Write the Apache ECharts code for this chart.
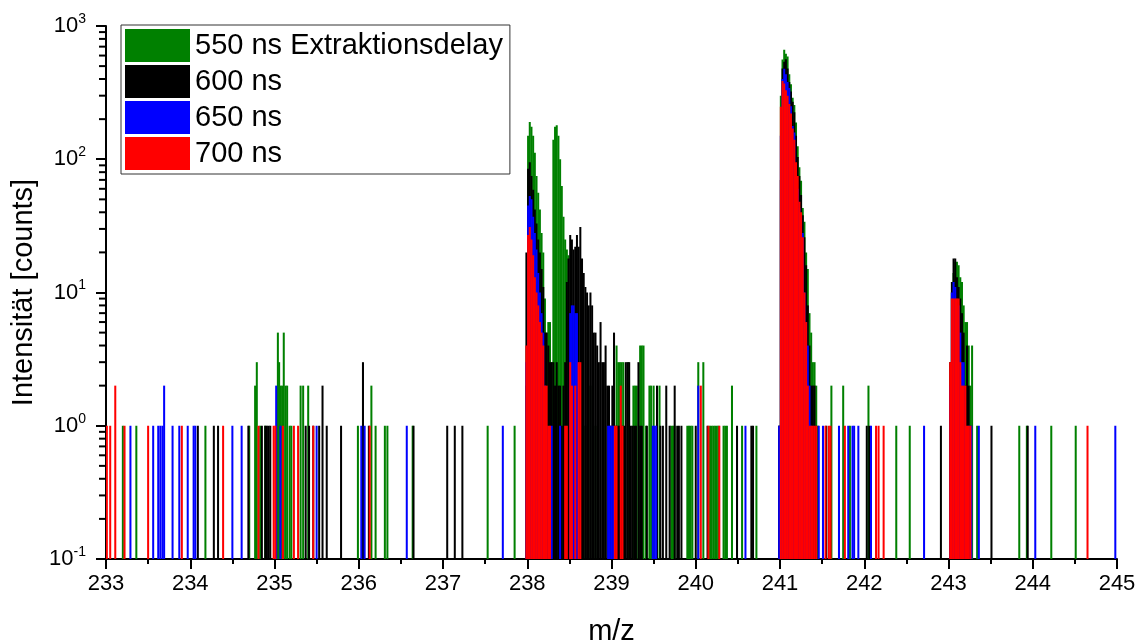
<!DOCTYPE html>
<html>
<head>
<meta charset="utf-8">
<script src="https://cdn.jsdelivr.net/npm/echarts@6/dist/echarts.min.js"></script>
<style>
html,body{margin:0;padding:0;background:#fff;}
#chart{width:1148px;height:643px;}
</style>
</head>
<body>
<div id="chart"></div>
<script>
// ---- Data: [m/z, counts] ----
const seriesNames = ['550 ns Extraktionsdelay', '600 ns', '650 ns', '700 ns'];
const seriesColors = ['#008000', '#000000', '#0000ff', '#ff0000'];

const data550 = [
  [233.20,1],[233.36,1],[234.18,1],[234.70,1],[234.77,2],[234.79,3],[234.83,1],[234.89,1],
  [235.04,5],[235.055,3],[235.07,2],[235.09,2],[235.11,5],[235.13,2],[235.15,2],[235.18,1],[235.20,1],
  [235.31,2],[235.34,2],[235.40,2],[235.99,1],[236.15,2],[236.20,1],[236.31,1],[236.34,1],[236.64,1],
  [237.53,1],[237.85,1],
  [237.99,2],[238.01,150],[238.03,190],[238.05,175],[238.07,150],[238.09,112],[238.11,75],[238.13,56],
  [238.15,42],[238.17,28],[238.19,20],[238.21,9],[238.23,5],[238.25,6],[238.27,6],[238.29,3],
  [238.31,140],[238.33,175],[238.35,180],[238.37,150],[238.39,100],[238.41,63],[238.43,37],[238.45,25],
  [238.47,21],[238.49,19],[238.51,3],[238.55,2],[238.61,2],[238.69,1],[238.75,2],[238.81,1],[238.90,1],
  [239.06,4],[239.08,3],[239.10,3],[239.12,3],[239.14,3],[239.20,3],[239.26,2],[239.28,2],[239.30,2],
  [239.34,4],[239.36,4],[239.38,4],[239.41,1],[239.45,2],[239.47,2],[239.50,2],[239.57,2],[239.71,1],
  [239.73,1],[239.75,1],[239.90,1],[239.92,1],[239.94,1],[239.96,1],[240.03,3],[240.09,3],[240.17,1],
  [240.19,1],[240.21,1],[240.23,1],[240.25,1],[240.27,1],[240.33,1],[240.35,1],[240.37,1],[240.43,2],
  [240.55,1],[240.72,1],
  [240.99,1],[241.01,300],[241.03,560],[241.05,664],[241.07,620],[241.09,590],[241.11,435],[241.13,365],
  [241.15,290],[241.17,255],[241.19,189],[241.21,125],[241.23,87],[241.25,69],[241.27,43],[241.29,34],
  [241.31,20],[241.33,15],[241.35,7],[241.37,5],[241.39,3],[241.41,3],[241.43,2],[241.45,1],
  [241.61,2],[241.75,2],[241.83,1],[242.05,2],[242.38,1],[242.54,1],
  [243.02,2],[243.04,10],[243.06,14],[243.08,17],[243.10,17],[243.12,16],[243.14,13],[243.16,12],
  [243.18,8],[243.20,6],[243.22,6],[243.24,4],[243.26,2],[243.28,4],[243.34,1],
  [243.84,1],[243.93,1],[244.22,1],[244.51,1]
];

const data600 = [
  [234.09,1],[234.28,1],[234.33,1],[234.69,1],[234.85,1],[234.89,1],[234.91,1],[234.93,1],[234.95,1],
  [235.37,1],[235.41,1],[235.46,1],[235.53,1],[235.57,2],[235.62,1],[235.79,1],[236.05,3],[236.12,1],
  [236.65,1],[237.05,1],[237.14,1],[237.23,1],
  [237.99,20],[238.01,85],[238.03,95],[238.05,75],[238.07,59],[238.09,42],[238.11,33],[238.13,25],
  [238.15,20],[238.17,15],[238.19,11],[238.21,5],[238.23,5],[238.25,4],[238.27,3],[238.29,3],[238.31,3],
  [238.33,2],[238.35,3],[238.37,2],[238.39,2],[238.41,1],[238.43,2],[238.45,3],[238.47,12],[238.49,18],
  [238.51,27],[238.53,25],[238.55,21],[238.57,22],[238.59,27],[238.61,22],[238.63,31],[238.65,18],
  [238.67,14],[238.69,11],[238.71,10],[238.73,8],[238.75,10],[238.77,8],[238.79,5],[238.81,5],[238.83,4],
  [238.85,3],[238.87,6],[238.89,3],[238.91,3],[238.93,4],[238.95,2],[238.97,2],[238.99,1],[239.01,2],
  [239.03,5],[239.05,1],[239.07,1],[239.09,1],[239.11,1],[239.13,1],[239.15,1],[239.17,3],[239.19,3],
  [239.21,3],[239.23,1],[239.25,1],[239.27,1],[239.29,1],[239.32,3],[239.34,1],[239.36,1],[239.42,1],
  [239.54,2],[239.58,1],[239.61,1],[239.65,2],[239.69,1],[239.75,2],[239.78,1],[239.80,1],[239.83,1],
  [240.00,1],[240.14,1],[240.49,1],[240.66,1],[240.68,1],
  [240.99,1],[241.01,70],[241.03,480],[241.05,540],[241.07,563],[241.09,480],[241.11,380],[241.13,323],
  [241.15,270],[241.17,225],[241.19,150],[241.21,104],[241.23,75],[241.25,54],[241.27,38],[241.29,26],
  [241.31,16],[241.33,8],[241.35,4],[241.37,2],[241.39,2],[241.41,2],[241.43,1],
  [241.55,1],[242.03,1],[242.06,1],[242.91,1],
  [243.02,3],[243.04,12],[243.06,18],[243.08,18],[243.10,13],[243.12,11],[243.14,9],[243.16,7],
  [243.18,5],[243.20,2],[243.22,4],[243.24,2],[243.26,1],
  [243.51,1],[243.94,1]
];

const data650 = [
  [233.29,1],[233.56,1],[233.62,1],[233.645,1],[233.67,1],[233.69,2],[233.79,1],[233.87,1],[233.97,1],
  [234.04,1],[234.06,1],[234.50,1],[234.61,1],[235.02,2],[235.07,1],[235.50,1],[236.03,1],[236.07,1],
  [236.57,1],[237.71,1],
  [237.99,3],[238.01,45],[238.03,53],[238.05,50],[238.07,37],[238.09,28],[238.11,21],[238.13,14],
  [238.15,10],[238.17,7],[238.19,5],[238.21,2],[238.23,1],[238.29,1],[238.39,1],
  [238.51,7],[238.53,8],[238.55,8],[238.57,7],[238.59,7],[238.96,1],[238.98,1],[239.00,1],[239.02,1],
  [239.49,1],[239.51,1],[239.53,1],[240.03,2],[240.59,1],
  [240.99,1],[241.01,150],[241.03,400],[241.05,477],[241.07,435],[241.09,380],[241.11,343],[241.13,250],
  [241.15,178],[241.17,159],[241.19,87],[241.21,60],[241.23,43],[241.25,35],[241.27,28],[241.29,10],
  [241.31,6],[241.33,4],[241.35,2],[241.37,1],
  [241.46,1],[241.51,1],[241.70,1],[241.81,1],[241.86,1],[241.88,1],[241.93,1],[242.08,1],[242.71,1],
  [243.02,2],[243.04,10],[243.06,12],[243.08,11],[243.10,8],[243.12,8],[243.14,5],[243.16,3],
  [243.18,3],[243.20,1],[243.24,1],
  [243.27,1],[243.36,1],[244.03,1],[244.98,1]
];

const data700 = [
  [233.01,1],[233.05,1],[233.11,2],[233.22,1],[233.50,1],[233.90,1],[234.39,1],[234.81,1],[234.99,1],
  [235.01,1],[235.10,1],[235.23,1],[235.28,1],[235.46,1],[236.13,1],
  [237.99,4],[238.01,27],[238.03,31],[238.05,25],[238.07,19],[238.09,13],[238.11,10],[238.13,8],
  [238.15,6],[238.17,5],[238.19,4],[238.21,2],[238.23,2],[238.25,1],[238.27,1],[238.45,1],[238.47,1],
  [238.51,3],[238.53,2],[238.57,2],[238.61,3],[238.63,3],[239.04,1],[239.06,1],[239.11,2],[239.13,1],
  [240.06,2],[240.15,1],[240.28,1],
  [241.01,248],[241.03,386],[241.05,370],[241.07,330],[241.09,300],[241.11,260],[241.13,220],[241.15,170],
  [241.17,140],[241.19,95],[241.21,75],[241.23,48],[241.25,40],[241.27,26],[241.29,10],[241.31,6],
  [241.33,2],[241.35,1],[241.37,1],[241.39,1],[241.41,1],[241.43,1],
  [241.54,1],[241.58,1],[241.60,1],[241.77,1],[242.14,1],[242.17,1],[242.23,1],
  [243.02,3],[243.04,9],[243.06,9],[243.08,9],[243.10,9],[243.12,9],[243.14,3],[243.16,2],[243.18,2],
  [243.20,2],[243.22,1],[243.24,1],[243.26,1],
  [244.65,1]
];

const allData = [data550, data600, data650, data700];

// axis settings
const X_MIN = 233, X_MAX = 245, X_STEP = 1;
const Y_MIN = 0.1, Y_MAX = 1000;
const yMinorTickValues = [0.2,0.3,0.4,0.5,0.6,0.7,0.8,0.9, 2,3,4,5,6,7,8,9, 20,30,40,50,60,70,80,90, 200,300,400,500,600,700,800,900];

const FONT = '"Liberation Sans", Arial, sans-serif';
const BIN = 0.024;

function renderBar(params, api) {
  const x = api.value(0), y = api.value(1);
  const top = api.coord([x, y]);
  const bot = api.coord([x, Y_MIN]);
  const xl = api.coord([x - BIN / 2, Y_MIN])[0];
  const xr = api.coord([x + BIN / 2, Y_MIN])[0];
  const w = Math.max(2, xr - xl);
  return {
    type: 'rect',
    shape: { x: top[0] - w / 2, y: top[1], width: w, height: bot[1] - top[1] },
    style: { fill: api.visual('color') }
  };
}

const chart = echarts.init(document.getElementById('chart'), null, { renderer: 'canvas' });

const series = seriesNames.map((name, i) => ({
  name: name,
  type: 'custom',
  renderItem: renderBar,
  itemStyle: { color: seriesColors[i] },
  encode: { x: 0, y: 1 },
  data: allData[i],
  animation: false,
  clip: true
}));

// y-axis minor ticks (log positions 2..9 per decade), small marks left of the axis line
series.push({
  name: 'yMinorTicks',
  type: 'scatter',
  data: yMinorTickValues.map(v => [X_MIN, v]),
  symbol: 'rect',
  symbolSize: [6, 2],
  symbolOffset: [-4, 0],
  itemStyle: { color: '#000', opacity: 1 },
  clip: false,
  silent: true,
  animation: false,
  z: 100
});

const option = {
  backgroundColor: '#fff',
  animation: false,
  color: seriesColors,
  grid: { left: 106, right: 31, top: 26, bottom: 84, containLabel: false, outerBoundsMode: 'none' },
  legend: {
    orient: 'vertical',
    left: 121,
    top: 25,
    data: seriesNames.map(n => ({ name: n, icon: 'rect' })),
    itemWidth: 65,
    itemHeight: 33,
    itemGap: 3,
    padding: [4, 7, 4, 4],
    borderColor: '#333',
    borderWidth: 1,
    backgroundColor: '#fff',
    selectedMode: false,
    textStyle: { fontFamily: FONT, fontSize: 29, color: '#000', lineHeight: 33 },
    z: 10
  },
  xAxis: {
    type: 'value',
    min: X_MIN, max: X_MAX, interval: X_STEP,
    name: 'm/z', nameLocation: 'middle', nameGap: 58,
    nameTextStyle: { fontFamily: FONT, fontSize: 29, color: '#000' },
    axisLine: { show: true, onZero: false, lineStyle: { color: '#000', width: 2 } },
    axisTick: { show: true, length: 10, lineStyle: { color: '#000', width: 2 } },
    minorTick: { show: true, splitNumber: 2, length: 5, lineStyle: { color: '#000', width: 2 } },
    axisLabel: { fontFamily: FONT, fontSize: 22, color: '#000', margin: 14 },
    splitLine: { show: false }
  },
  yAxis: {
    type: 'log', logBase: 10,
    min: Y_MIN, max: Y_MAX,
    name: 'Intensität [counts]', nameLocation: 'middle', nameGap: 52,
    nameTextStyle: { fontFamily: FONT, fontSize: 29, color: '#000' },
    axisLine: { show: true, onZero: false, lineStyle: { color: '#000', width: 2 } },
    axisTick: { show: true, length: 10, lineStyle: { color: '#000', width: 2 } },
    axisLabel: {
      margin: 20,
      formatter: function (v) {
        const e = Math.round(Math.log10(v));
        return '{n|10}{s|' + e + '}';
      },
      rich: {
        n: { fontFamily: FONT, fontSize: 22, color: '#000', lineHeight: 28 },
        s: { fontFamily: FONT, fontSize: 14, color: '#000', verticalAlign: 'top', lineHeight: 16 }
      }
    },
    splitLine: { show: false }
  },
  series: series
};

chart.setOption(option);
</script>
</body>
</html>
